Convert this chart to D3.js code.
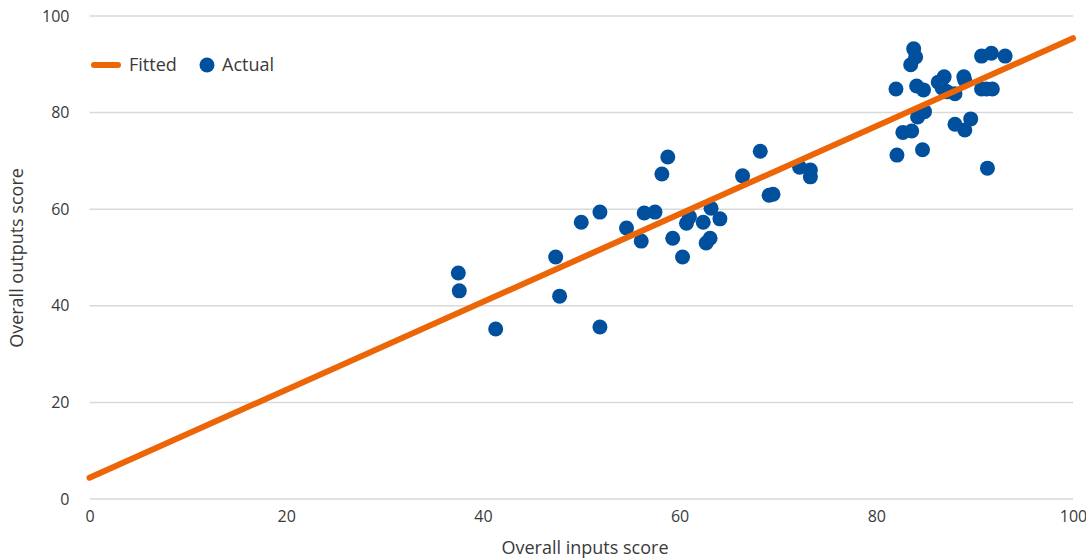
<!DOCTYPE html>
<html><head><meta charset="utf-8">
<script src="https://cdn.jsdelivr.net/npm/d3@7"></script>
<style>body{margin:0;background:#fff;} svg{display:block;font-family:"Open Sans","Noto Sans",sans-serif;}</style>
</head><body>
<svg id="chart" width="1086" height="560"></svg>
<script>
const inputsScore = [37.5,37.6,41.3,47.4,47.8,50.0,51.9,51.9,54.6,56.1,56.4,57.5,58.2,58.8,59.3,60.3,60.7,61.0,62.4,62.7,63.1,63.2,64.1,66.4,68.2,69.1,69.5,72.2,73.3,73.3,
  83.8,84.0,83.5,82.0,84.1,84.8,86.3,86.9,86.7,87.2,88.0,88.9,89.0,90.7,91.7,93.1,90.7,91.2,91.8,84.2,84.9,82.7,83.6,88.0,89.6,89.0,82.1,84.7,91.3];
const outputsScore = [46.8,43.1,35.2,50.1,42.0,57.3,59.4,35.6,56.1,53.4,59.2,59.4,67.3,70.8,54.0,50.1,57.1,58.4,57.3,53.0,54.0,60.2,58.0,66.9,72.0,62.9,63.1,68.7,68.1,66.7,
  93.2,91.5,89.9,84.9,85.5,84.7,86.3,87.4,85.1,84.3,83.9,87.4,86.7,91.7,92.3,91.7,84.9,84.9,84.9,79.1,80.2,75.9,76.2,77.6,78.7,76.4,71.2,72.3,68.5];
const fittedX = [0, 100];
const fittedY = [4.4, 95.4];
const xTicks = [0,20,40,60,80,100];
const yTicks = [0,20,40,60,80,100];
const legendLabels = ["Fitted","Actual"];

const svg = d3.select("#chart");
const x = d3.scaleLinear().domain([0,100]).range([89.5,1073]);
const y = d3.scaleLinear().domain([0,100]).range([499,16]);
const orange = "#ec6608", blue = "#00509e", textCol = "#3a3a3a";

// gridlines
svg.append("g").selectAll("line").data(yTicks).join("line")
  .attr("x1", x(0)).attr("x2", x(100))
  .attr("y1", d=>y(d)).attr("y2", d=>y(d))
  .attr("stroke","#d9d9d9").attr("stroke-width",1.5);

// y axis labels
const yAxis = svg.append("g").attr("transform",`translate(${x(0)},0)`)
  .call(d3.axisLeft(y).tickValues(yTicks).tickSize(0).tickPadding(20));
yAxis.select(".domain").remove();
yAxis.selectAll("text").attr("font-size",16).attr("fill",textCol).attr("font-family","Open Sans");

const xAxis = svg.append("g").attr("transform",`translate(0,${y(0)})`)
  .call(d3.axisBottom(x).tickValues(xTicks).tickSize(0).tickPadding(12));
xAxis.select(".domain").remove();
xAxis.selectAll("text").attr("font-size",16).attr("fill",textCol).attr("font-family","Open Sans");

// axis titles
svg.append("text").attr("x",585).attr("y",554).attr("text-anchor","middle")
  .attr("font-size",18).attr("fill",textCol).text("Overall inputs score");
svg.append("text").attr("transform","translate(23,258) rotate(-90)").attr("text-anchor","middle")
  .attr("font-size",18).attr("fill",textCol).text("Overall outputs score");

// points
const pts = inputsScore.map((v,i)=>({x:v,y:outputsScore[i]}));
svg.append("g").selectAll("circle").data(pts).join("circle")
  .attr("cx",d=>x(d.x)).attr("cy",d=>y(d.y)).attr("r",7.5).attr("fill",blue);

// fitted line
svg.append("path").datum(fittedX.map((v,i)=>[v,fittedY[i]]))
  .attr("d", d3.line().x(d=>x(d[0])).y(d=>y(d[1])))
  .attr("stroke",orange).attr("stroke-width",6).attr("stroke-linecap","round").attr("fill","none");

// legend
const lg = svg.append("g");
lg.append("line").attr("x1",94).attr("x2",118).attr("y1",65).attr("y2",65)
  .attr("stroke",orange).attr("stroke-width",6).attr("stroke-linecap","round");
lg.append("text").attr("x",129).attr("y",71).attr("font-size",18).attr("fill",textCol).text(legendLabels[0]);
lg.append("circle").attr("cx",207).attr("cy",65).attr("r",7.5).attr("fill",blue);
lg.append("text").attr("x",222).attr("y",71).attr("font-size",18).attr("fill",textCol).text(legendLabels[1]);
</script>
</body></html>
